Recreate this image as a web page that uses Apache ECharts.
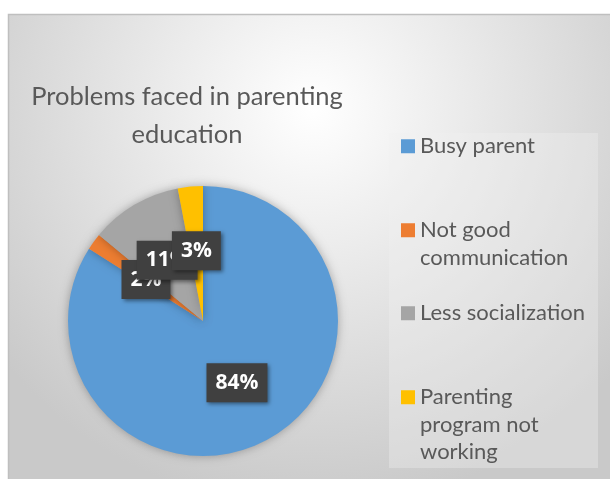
<!DOCTYPE html>
<html><head><meta charset="utf-8">
<script src="https://cdn.jsdelivr.net/npm/echarts@6/dist/echarts.min.js"></script>
<style>html,body{margin:0;padding:0;background:#fff}#c{width:610px;height:479px}</style>
</head><body><div id="c"></div>
<script>
const categories = ['Busy parent', 'Not good communication', 'Less socialization', 'Parenting program not working'];
const legendLines = [['Busy parent'], ['Not good', 'communication'], ['Less socialization'], ['Parenting', 'program not', 'working']];
const values = [84, 2, 11, 3];
const colors = ['#5B9BD5', '#ED7D31', '#A5A5A5', '#FFC000'];
const titleText = 'Problems faced in parenting\neducation';

const LH = 27.5;
const legendY = [146, 230, 313, 397];
const legFont = {fontFamily: 'Lato', fontSize: 22, lineHeight: LH, color: '#595959'};

const legends = categories.map((c, i) => {
  const n = legendLines[i].length;
  return {
    orient: 'vertical', left: 401, top: legendY[i] - 10.75, padding: 0,
    icon: 'rect', itemWidth: 14, itemHeight: 14, selectedMode: false,
    data: [c],
    formatter: () => legendLines[i].map(l => '{t|' + l + '}').join('\n'),
    textStyle: {padding: [(n - 1) * LH, 0, 0, 0], rich: {t: legFont}}
  };
});

const chart = echarts.init(document.getElementById('c'), null, {renderer: 'canvas'});
chart.setOption({
  animation: false,
  backgroundColor: '#ffffff',
  color: colors,
  graphic: [
    {type: 'rect', z: -10, shape: {x: 8.5, y: 14.5, width: 610, height: 470},
     style: {fill: {type: 'radial', x: 0.5, y: 0.2, r: 0.85, colorStops: [{offset: 0, color: '#ffffff'}, {offset: 1, color: '#c9c9c9'}]},
             stroke: '#bfbfbf', lineWidth: 1.5}},
    {type: 'rect', z: -9, shape: {x: 389, y: 133, width: 209, height: 335},
     style: {fill: 'rgba(242,242,242,0.35)'}}
  ],
  title: {
    text: titleText,
    left: 187, top: 78, textAlign: 'center', padding: 0,
    textStyle: {fontFamily: 'Lato', fontWeight: 'normal', fontSize: 25.5, lineHeight: 38, color: '#595959'}
  },
  legend: legends,
  series: [{
    type: 'pie',
    center: [203, 321], radius: 135,
    startAngle: 90, clockwise: true,
    itemStyle: {shadowBlur: 10, shadowColor: 'rgba(0,0,0,0.3)', borderWidth: 0},
    label: {
      show: true, position: 'inside', formatter: '{c}%',
      fontFamily: 'Open Sans', fontWeight: 'bold', fontSize: 21, color: '#ffffff',
      backgroundColor: '#404040', padding: [9, 9, 9, 9],
      shadowColor: 'rgba(0,0,0,0.45)', shadowBlur: 4, shadowOffsetX: 2, shadowOffsetY: 2
    },
    labelLayout: {hideOverlap: false},
    labelLine: {show: false},
    emphasis: {disabled: true},
    data: categories.map((c, i) => ({name: c, value: values[i]}))
  }]
});
</script></body></html>
